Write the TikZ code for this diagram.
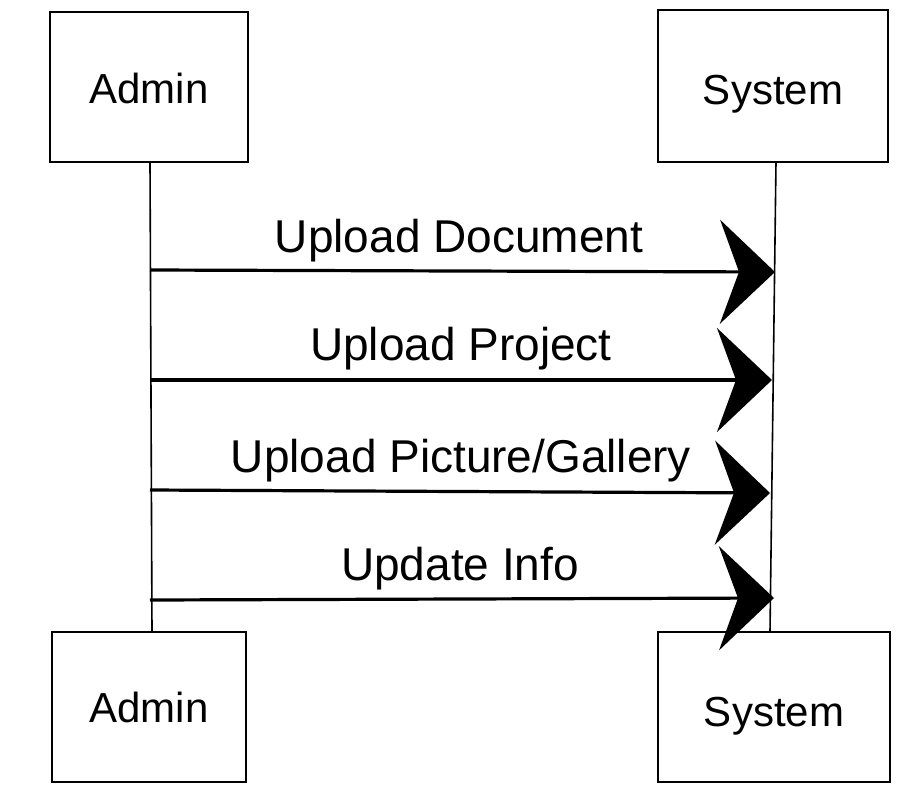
\documentclass[tikz,border=0pt]{standalone}
\usepackage{fontspec}
\setmainfont{Liberation Sans}
\usetikzlibrary{arrows.meta}
\begin{document}
\begin{tikzpicture}[x=1pt,y=-1pt,
  actor/.style={draw=black, line width=2.8pt, fill=white, inner sep=0pt, font=\fontsize{42}{48}\selectfont},
  actorlabel/.style={inner sep=0pt, font=\fontsize{42}{48}\selectfont},
  life/.style={draw=black, line width=1.6pt},
  msg/.style={draw=black, line width=3.2pt, -{Stealth[length=55pt,width=104pt,inset=19pt]}},
  msglabel/.style={anchor=base, inner sep=0pt, font=\fontsize{46}{52}\selectfont}]
\useasboundingbox (0,0) rectangle (906,807);
% actor boxes
\node[actor, minimum width=198pt, minimum height=150pt] (adminTop) at (149,87) {};
\node[actor, minimum width=230pt, minimum height=152pt] (sysTop) at (773,86) {};
\node[actor, minimum width=194pt, minimum height=150pt] (adminBot) at (149,707) {};
\node[actor, minimum width=232pt, minimum height=150pt] (sysBot) at (774,707) {};
\node[actorlabel, anchor=base] (tA1) at (adminTop.center |- 0,103) {Admin};
\node[actorlabel, anchor=base] (tS1) at (sysTop.center |- 0,104) {System};
\node[actorlabel, anchor=base] (tA2) at (adminBot.center |- 0,722) {Admin};
\node[actorlabel, anchor=base] (tS2) at (sysBot.center |- 0,726) {System};
% lifelines
\coordinate (aTop) at (150,162);
\coordinate (aBot) at (152,632);
\coordinate (sTopL) at (776,162);
\coordinate (sBotL) at (770,632);
\draw[life] (aTop) -- (aBot);
\draw[life] (sTopL) -- (sBotL);
% message endpoints
\coordinate (a1) at (150,270);
\coordinate (s1) at (775,272);
\coordinate (a2) at (150,380);
\coordinate (s2) at (772,380);
\coordinate (a3) at (150,490);
\coordinate (s3) at (770,493);
\coordinate (a4) at (150,600);
\coordinate (s4) at (774,598);
\draw[msg] (a1) -- (s1);
\draw[msg] (a2) -- (s2);
\draw[msg] (a3) -- (s3);
\draw[msg] (a4) -- (s4);
% labels
\node[msglabel] (l1) at (459,252) {Upload Document};
\node[msglabel] (l2) at (461,360) {Upload Project};
\node[msglabel] (l3) at (461,472) {Upload Picture/Gallery};
\node[msglabel] (l4) at (460,580) {Update Info};
\end{tikzpicture}
\end{document}
